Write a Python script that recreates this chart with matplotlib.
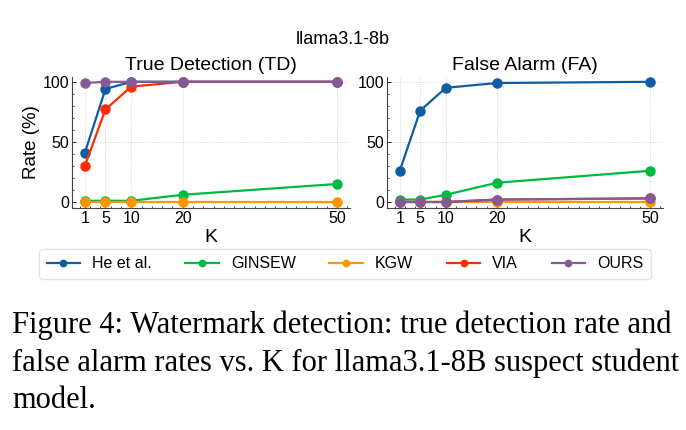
import matplotlib
matplotlib.use("Agg")
import matplotlib.pyplot as plt
from matplotlib.ticker import MultipleLocator

K = [1, 5, 10, 20, 50]
methods = ["He et al.", "GINSEW", "KGW", "VIA", "OURS"]
colors = ["#0C5DA5", "#00B945", "#FF9500", "#FF2C00", "#845B97"]

# True detection rate (%)
td_he = [41, 94, 100, 100, 100]
td_ginsew = [1, 1, 1, 6, 15]
td_kgw = [0, 0, 0, 0, 0]
td_via = [30, 77, 96, 100, 100]
td_ours = [99, 100, 100, 100, 100]

# False alarm rate (%)
fa_he = [26, 76, 95, 99, 100]
fa_ginsew = [2, 2, 6, 16, 26]
fa_kgw = [0, 0, 0, 0, 0]
fa_via = [0, 0, 0, 2, 3]
fa_ours = [0, 0, 0, 2, 3]

plt.rcParams["font.family"] = ["Liberation Sans", "DejaVu Sans"]
plt.rcParams["xtick.direction"] = "in"
plt.rcParams["ytick.direction"] = "in"

fig = plt.figure(figsize=(6.86, 4.30), dpi=100)
ax1 = fig.add_axes([72 / 686, 1 - 208 / 430, 278 / 686, 131 / 430])
ax2 = fig.add_axes([387 / 686, 1 - 208 / 430, 276 / 686, 131 / 430])

panels = [
    (ax1, "True Detection (TD)", [td_he, td_ginsew, td_kgw, td_via, td_ours]),
    (ax2, "False Alarm (FA)", [fa_he, fa_ginsew, fa_kgw, fa_via, fa_ours]),
]

for ax, title, series in panels:
    for name, vals, c in zip(methods, series, colors):
        ax.plot(K, vals, "-o", color=c, label=name, lw=1.6, ms=6.5)
    ax.set_title(title, fontsize=14, pad=5)
    ax.set_xlabel("K", fontsize=14, labelpad=2)
    ax.set_xticks(K)
    ax.set_yticks([0, 50, 100])
    ax.set_xlim(-1.5, 52.5)
    ax.set_ylim(-5, 104)
    ax.xaxis.set_minor_locator(MultipleLocator(2))
    ax.yaxis.set_minor_locator(MultipleLocator(10))
    ax.tick_params(labelsize=11.5, length=3, width=0.6, pad=2)
    ax.tick_params(which="minor", length=1.5, width=0.5)
    ax.grid(True, ls=":", color="#cccccc", lw=0.6)
    for s in ["top", "right"]:
        ax.spines[s].set_visible(False)
    ax.spines["left"].set_color("#444444")
    ax.spines["bottom"].set_color("#444444")

ax1.set_ylabel("Rate (%)", fontsize=13.5, labelpad=2)

fig.text(0.5, 1 - 40 / 430, "llama3.1-8b", ha="center", va="center", fontsize=13)

handles, labels = ax1.get_legend_handles_labels()
fig.legend(handles, labels, loc="center", ncol=5, fontsize=11.5,
           bbox_to_anchor=(345 / 686, 1 - 264 / 430), frameon=True,
           fancybox=True, edgecolor="#dddddd", columnspacing=2.1,
           handlelength=2.1, handletextpad=0.75, borderpad=0.45,
           markerscale=0.7)

caption = ("Figure 4: Watermark detection: true detection rate and\n"
           "false alarm rates vs. K for llama3.1-8B suspect student\n"
           "model.")
fig.text(12 / 686, 1 - 311 / 430, caption, ha="left", va="top",
         fontsize=22, family="Liberation Serif", linespacing=1.36)

fig.savefig("out.png", dpi=100)
